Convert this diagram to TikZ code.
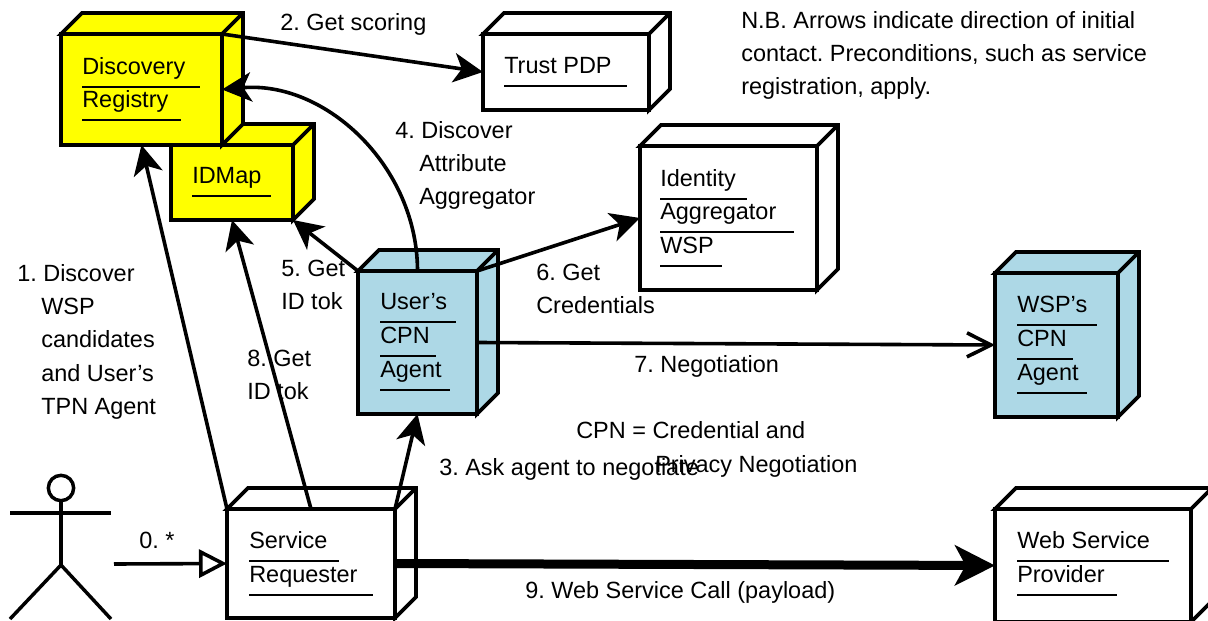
\documentclass[tikz,border=0pt]{standalone}
\usepackage{fontspec}
\setmainfont{Liberation Sans}
\usetikzlibrary{arrows.meta}
\definecolor{nodeyellow}{RGB}{255,255,0}
\definecolor{nodeblue}{RGB}{173,216,230}

\tikzset{
  umlbox/.style={draw, line width=2.9pt, rectangle, outer sep=0pt, inner sep=0pt},
  umlface/.style={draw, line width=2.9pt, line join=miter},
  rowtext/.style={anchor=base west, inner sep=0pt, font=\fontsize{17.6}{25}\selectfont},
  rowline/.style={line width=1.5pt},
  lbl/.style={anchor=base west, inner sep=0pt, align=left, font=\fontsize{17.6}{25}\selectfont},
  conn/.style={line width=2.7pt},
  solidtip/.style={-{Stealth[length=22pt,width=22pt,inset=6pt]}},
  bigtip/.style={-{Stealth[length=30pt,width=30pt,inset=8pt]}},
  opentip/.style={-{Triangle[open,length=21pt,width=21pt,fill=white]}},
  barbtip/.style={-{Straight Barb[length=18pt,width=18pt]}},
  limb/.style={line width=2.6pt}
}

% name, x1, y1, x2, y2, colour
\newcommand{\umlnode}[6]{
  \node [umlbox, fill=#6, minimum width={(#4-#2)*0.75pt}, minimum height={(#5-#3)*0.75pt}]
    (#1) at ({(#2+#4)/2},{(#3+#5)/2}) {};
  \filldraw [umlface, fill=#6] (#1.north west) -- ++(21,-21) -- ++({#4-#2},0) -- ++(0,{#5-#3})
    -- (#1.south east) -- (#1.north east) -- cycle;
  \draw [umlface] (#1.north east) -- ++(21,-21);
}
% name, x, baseline, text, length of rule
\newcommand{\umlrow}[5]{
  \node [rowtext] (#1) at (#2,#3) {#4};
  \draw [rowline] (#2,#3+12.5) -- ++(#5,0);
}

\begin{document}
\frenchspacing
\begin{tikzpicture}[x=0.75pt, y=-0.75pt]
\useasboundingbox (0,0) rectangle (1208,621);

% boxes
\umlnode{idmap}{171}{145}{293}{220}{nodeyellow}
\umlnode{disco}{61}{34}{222}{145}{nodeyellow}
\umlnode{trust}{483}{34}{649}{110}{white}
\umlnode{ident}{640}{146}{817}{290}{white}
\umlnode{agent}{358}{271}{477}{414}{nodeblue}
\umlnode{wspag}{995}{273}{1118}{417}{nodeblue}
\umlnode{reqst}{227}{509}{395}{618}{white}
\umlnode{prov}{995}{509}{1191}{622}{white}

% box texts
\umlrow{discoA}{82}{74}{Discovery}{118}
\umlrow{discoB}{82}{107}{Registry}{99}
\umlrow{idmapA}{192}{183}{IDMap}{79}
\umlrow{trustA}{504}{73}{Trust PDP}{123}
\umlrow{identA}{660}{186}{Identity}{87}
\umlrow{identB}{660}{219}{Aggregator}{134}
\umlrow{identC}{660}{253}{WSP}{62}
\umlrow{agentA}{380}{309}{User’s}{76}
\umlrow{agentB}{380}{343}{CPN}{56}
\umlrow{agentC}{380}{377}{Agent}{70}
\umlrow{wspagA}{1017}{312}{WSP’s}{80}
\umlrow{wspagB}{1017}{346}{CPN}{56}
\umlrow{wspagC}{1017}{380}{Agent}{70}
\umlrow{reqstA}{249}{548}{Service}{90}
\umlrow{reqstB}{249}{582}{Requester}{124}
\umlrow{provA}{1017}{548}{Web Service}{152}
\umlrow{provB}{1017}{582}{Provider}{100}

% actor
\node [draw, circle, line width=2.6pt, minimum size=19pt, inner sep=0pt, outer sep=0pt] (head) at (61,488) {};
\coordinate (hip) at (61,565);
\coordinate (armL) at (10,513);
\coordinate (armR) at (111,513);
\coordinate (footL) at (10,619);
\coordinate (footR) at (111,619);
\coordinate (start) at (114,564);
\draw [limb] (head.south) -- (hip);
\draw [limb] (armL) -- (armR);
\draw [limb] (footL) -- (hip) -- (footR);

% connectors
\draw [conn, opentip] (start) -- (reqst.west);
\draw [conn, solidtip] (reqst.north west) -- (disco.south);
\draw [conn, solidtip] (disco.north east) -- (trust.west);
\draw [conn, solidtip] (reqst.north east) -- (agent.south);
\draw [conn, solidtip] (agent.north) to [out=90, in=5] (disco.east);
\draw [conn, solidtip] (agent.north west) -- (idmap.south east);
\draw [conn, solidtip] (agent.north east) -- (ident.west);
\draw [conn, barbtip] (agent.east) -- (wspag.west);
\draw [conn, solidtip] (reqst.north) -- (idmap.south);
\draw [line width=6.75pt, bigtip] (reqst.east) -- (prov.west);

% labels
\node [lbl] (lab0) at (139,548) {0. *};
\node [lbl, anchor=north west] (lab1) at (17,264) {1. Discover\\\hspace*{18pt}WSP\\\hspace*{18pt}candidates\\\hspace*{18pt}and User’s\\\hspace*{18pt}TPN Agent};
\node [lbl] (lab2) at (280,31) {2. Get scoring};
\node [lbl] (lab3) at (439,475) {3. Ask agent to negotiate};
\node [lbl, anchor=north west] (lab4) at (395,121) {4. Discover\\\hspace*{18pt}Attribute\\\hspace*{18pt}Aggregator};
\node [lbl, anchor=north west] (lab5) at (281,260) {5. Get\\ID tok};
\node [lbl, anchor=north west] (lab6) at (536,264) {6. Get\\Credentials};
\node [lbl] (lab7) at (634,372) {7. Negotiation};
\node [lbl, anchor=north west] (lab8) at (247,350) {8. Get\\ID tok};
\node [lbl] (lab9) at (525,598) {9. Web Service Call (payload)};
\node [lbl] (cpnA) at (576,438) {CPN = Credential and};
\node [lbl] (cpnB) at (655,472) {Privacy Negotiation};
\node [lbl, anchor=north west] (note) at (741,11) {N.B. Arrows indicate direction of initial\\contact. Preconditions, such as service\\registration, apply.};
\end{tikzpicture}
\end{document}
